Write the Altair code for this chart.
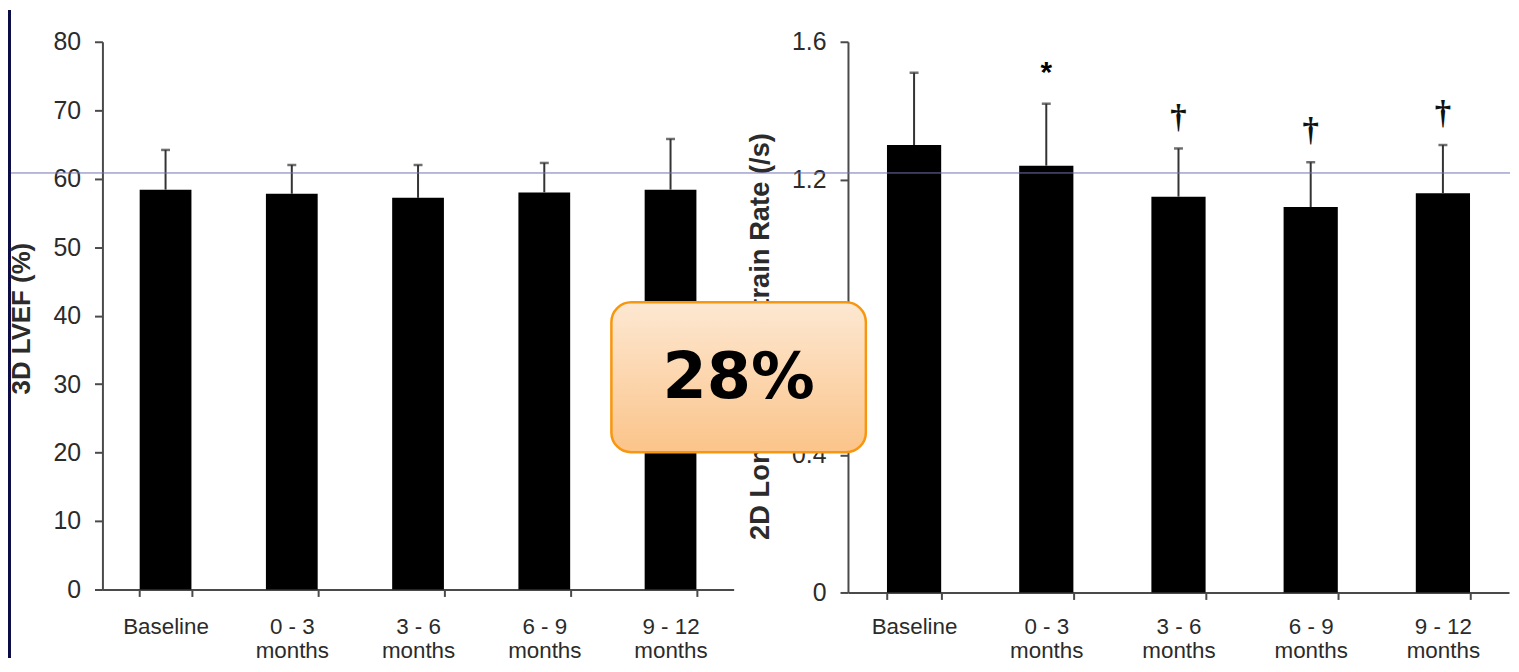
import altair as alt
import pandas as pd

# ---- data ----
periods = ["Baseline", "0 - 3 months", "3 - 6 months", "6 - 9 months", "9 - 12 months"]
lvef_mean = [58.4, 57.8, 57.2, 58.0, 58.4]
lvef_err = [5.8, 4.2, 4.8, 4.3, 7.4]
sr_mean = [1.30, 1.24, 1.15, 1.12, 1.16]
sr_err = [0.21, 0.18, 0.14, 0.13, 0.14]
sr_marks = ["", "*", "†", "†", "†"]
lvef_ticks = [0, 10, 20, 30, 40, 50, 60, 70, 80]
sr_ticks = [0, 0.4, 0.8, 1.2, 1.6]
left_title = "3D LVEF (%)"
right_title = "2D Longitudinal Strain Rate (/s)"
callout = "28%"

NAVY = "#0b0b45"
AX = "#4a4a4a"
TXT = "#2b2b2b"

lvef = pd.DataFrame({"period": periods, "mean": lvef_mean, "err": lvef_err, "mark": [""] * 5})
sr = pd.DataFrame({"period": periods, "mean": sr_mean, "err": sr_err, "mark": sr_marks})
one = pd.DataFrame({"k": [0]})

LABEL_EXPR = ("indexof(datum.label, ' months') > 0 ? "
              "[replace(datum.label, ' months', ''), 'months'] : datum.label")


def panel(df, domain, ticks, title, title_x, title_y, title_size, label_expr, xpad):
    x = alt.X(
        "period:N",
        sort=periods,
        scale=alt.Scale(paddingInner=0.59, paddingOuter=0.295),
        axis=alt.Axis(
            title=None, labelExpr=LABEL_EXPR, tickBand="extent", labelAngle=0,
            labelFontSize=22.5, labelLineHeight=24, labelPadding=xpad, labelColor=TXT,
            tickSize=7, tickWidth=2, tickColor=AX, domainColor=AX, domainWidth=2,
            zindex=0, labelBaseline="top",
        ),
    )
    y_axis = alt.Axis(
        values=ticks, title=title, titleX=title_x, titleY=title_y, titleAngle=270,
        titleBaseline="middle", titleAlign="center", titleFontSize=title_size,
        titleFontWeight="bold", titleColor=TXT, labelFontSize=25, labelPadding=14,
        labelColor=TXT, tickSize=8, tickWidth=2, tickColor=AX, domainColor=AX,
        domainWidth=2, grid=False, zindex=0, labelExpr=label_expr,
    )
    base = alt.Chart(df).transform_calculate(top="datum.mean + datum.err")
    bars = base.mark_bar(color="black").encode(
        x=x, y=alt.Y("mean:Q", scale=alt.Scale(domain=domain, nice=False, zero=True), axis=y_axis)
    )
    stems = base.mark_rule(color="#333333", strokeWidth=2).encode(x=x, y="mean:Q", y2="top:Q")
    caps = base.mark_tick(color="#333333", thickness=2.5, size=9).encode(x=x, y="top:Q")
    stars = base.transform_filter("datum.mark == '*'").mark_text(
        dy=-31, fontSize=30, fontWeight="bold", baseline="middle", color="black",
        font="Liberation Sans",
    ).encode(x=x, y="top:Q", text="mark:N")
    daggers = base.transform_filter("datum.mark == '†'").mark_text(
        dy=-31, fontSize=33, fontWeight="bold", baseline="middle", color="#111111",
        font="Liberation Serif",
    ).encode(x=x, y="top:Q", text="mark:N")
    return [bars, stems, caps, stars, daggers]


left_layers = panel(lvef, [0, 80], lvef_ticks, left_title, -81, 278, 26, "datum.label", 19)
strip = alt.Chart(one).mark_rect(color=NAVY).encode(
    x=alt.value(-95), x2=alt.value(-92), y=alt.value(-32), y2=alt.value(620)
)
left = alt.layer(strip, *left_layers).properties(width=635, height=551)

right_layers = panel(sr, [0, 1.6], sr_ticks, right_title, -88, 296, 27.5,
                     "datum.value == 0 ? '0' : format(datum.value, '.1f')", 16)
hline = alt.Chart(one).mark_rule(color="#7272b2", strokeWidth=1).encode(
    x=alt.value(-842), x2=alt.value(666), y=alt.value(132)
)
box = alt.Chart(one).mark_rect(
    cornerRadius=20, stroke="#f7960f", strokeWidth=2.5,
    fill=alt.Gradient(
        gradient="linear", x1=0, x2=0, y1=0, y2=1,
        stops=[alt.GradientStop(color="#fde8d2", offset=0),
               alt.GradientStop(color="#fbc48a", offset=1)],
    ),
).encode(x=alt.value(-238), x2=alt.value(18), y=alt.value(262), y2=alt.value(413))
box_text = alt.Chart(one).mark_text(
    text=callout, font="DejaVu Sans", fontWeight="bold", fontSize=64,
    color="black", align="center", baseline="middle",
).encode(x=alt.value(-110), y=alt.value(339))
right = alt.layer(*right_layers, hline, box, box_text).properties(width=665, height=554)

chart = (
    alt.hconcat(left, right, spacing=115, bounds="flush")
    .properties(padding=0)
    .configure(background="white", font="Liberation Sans")
    .configure_view(stroke="transparent", strokeWidth=0)
)

chart.save("out.html", embed_options={"renderer": "svg", "actions": False})
